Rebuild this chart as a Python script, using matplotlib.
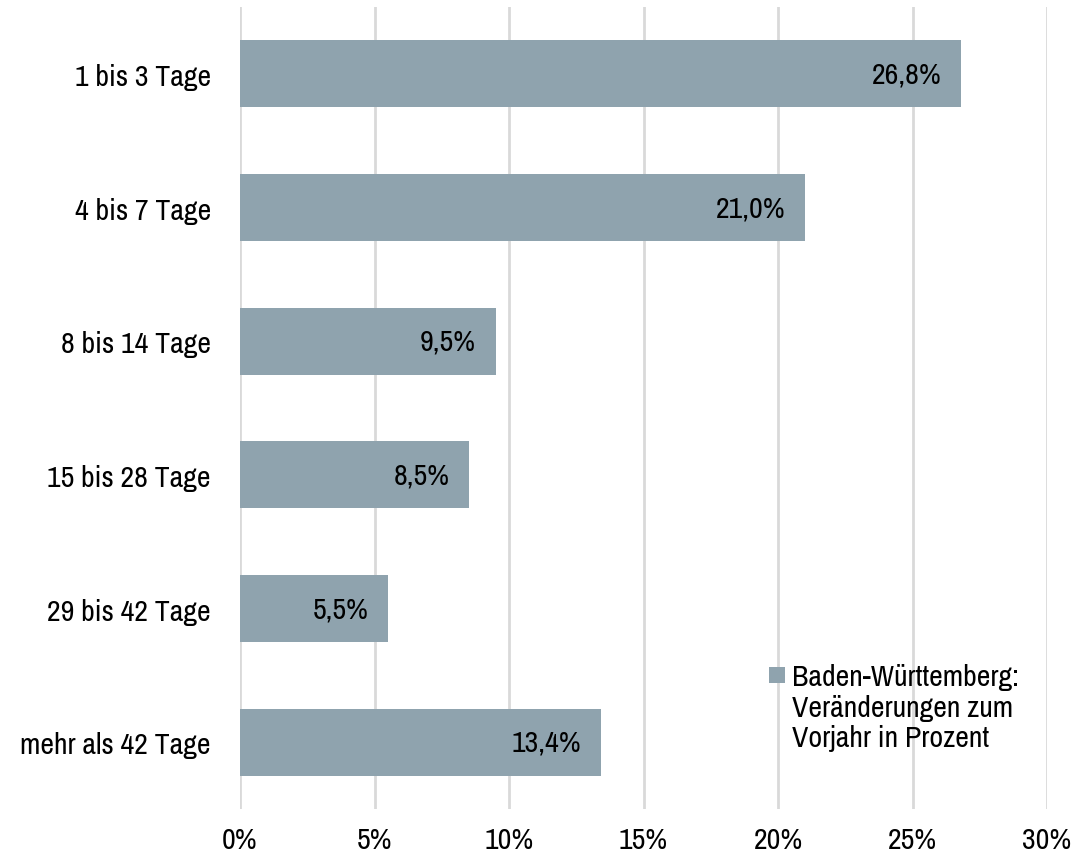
import matplotlib
matplotlib.use("Agg")
import matplotlib.pyplot as plt
from matplotlib.font_manager import fontManager
from matplotlib.patches import Rectangle

categories = ["1 bis 3 Tage", "4 bis 7 Tage", "8 bis 14 Tage",
              "15 bis 28 Tage", "29 bis 42 Tage", "mehr als 42 Tage"]
values = [26.8, 21.0, 9.5, 8.5, 5.5, 13.4]
xticks = [0, 5, 10, 15, 20, 25, 30]
legend_label = "Baden-Württemberg:\nVeränderungen zum\nVorjahr in Prozent"

BAR_COLOR = "#8fa3ae"
GRID_COLOR = "#d9d9d9"
FS = 21.5

names = {f.name for f in fontManager.ttflist}
font = "Liberation Sans"
for cand in ["Liberation Sans Narrow", "Arimo Narrow", "Archivo Narrow", "Roboto Condensed"]:
    if cand in names:
        font = cand
        break
plt.rcParams["font.family"] = [font, "DejaVu Sans"]
plt.rcParams["font.size"] = FS

fig = plt.figure(figsize=(10.75, 8.62), dpi=100)
ax = fig.add_axes([0.2233, 0.0603, 0.7507, 0.9304])

ypos = list(range(len(categories)))
ax.barh(ypos, values, height=0.5, color=BAR_COLOR, zorder=2)

for y, v in zip(ypos, values):
    ax.annotate(f"{v:.1f}%".replace(".", ","), xy=(v, y), xytext=(-14, 0),
                textcoords="offset points", ha="right", va="center",
                fontsize=FS, color="black", zorder=3)

ax.set_ylim(len(categories) - 0.5, -0.5)
ax.set_xlim(0, 30)
ax.set_yticks(ypos)
ax.set_yticklabels(categories)
ax.set_xticks(xticks)
ax.set_xticklabels([f"{t}%" for t in xticks])
ax.tick_params(length=0, labelsize=FS)
ax.tick_params(axis="y", pad=21)
ax.tick_params(axis="x", pad=12)
ax.grid(axis="x", color=GRID_COLOR, linewidth=2, zorder=0)
for s in ax.spines.values():
    s.set_visible(False)

# legend: square marker + three-line label
ax.add_patch(Rectangle((769 / 1075, 1 - 684 / 862), 16 / 1075, 16 / 862,
                       transform=fig.transFigure, facecolor=BAR_COLOR,
                       edgecolor="none", clip_on=False, zorder=4))
fig.text(792 / 1075, 1 - 664 / 862, legend_label, ha="left", va="top",
         fontsize=FS, linespacing=1.17)

fig.savefig("out.png", dpi=100)
